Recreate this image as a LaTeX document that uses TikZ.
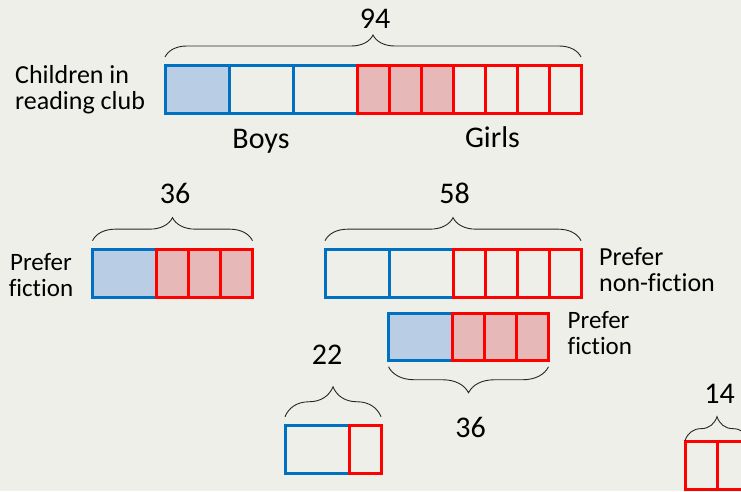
\documentclass[tikz,border=0pt]{standalone}
\usepackage{fontspec}
\setmainfont{Carlito}[Ligatures=CommonOff]
\usetikzlibrary{decorations.pathreplacing,calc}
\definecolor{bgc}{RGB}{239,239,233}
\definecolor{bstroke}{RGB}{0,112,192}
\definecolor{bfillc}{RGB}{185,205,229}
\definecolor{rstroke}{RGB}{255,0,0}
\definecolor{rfillc}{RGB}{230,185,184}
\definecolor{orangec}{RGB}{228,108,10}
\begin{document}
\begin{tikzpicture}[x=1pt,y=-1pt,
  cellbase/.style={line width=3pt, minimum height=47.5pt, inner sep=0pt, outer sep=0pt},
  bcell/.style={cellbase, draw=bstroke, minimum width=64pt},
  rcell/.style={cellbase, draw=rstroke, minimum width=32pt},
  bshade/.style={fill=bfillc},
  rshade/.style={fill=rfillc},
  lbl/.style={font=\fontsize{25}{26}\selectfont, inner sep=0pt, align=left},
  num/.style={font=\fontsize{30}{36}\selectfont, inner sep=0pt},
  brc/.style={decorate, decoration={brace, amplitude=#1}, line width=0.9pt, draw=black!85}
]
\useasboundingbox (0,0) rectangle (741,491);
\fill[bgc] (0,0) rectangle (741,491);

% partially visible title at the top edge
\node[font=\fontsize{30}{36}\selectfont, text=orangec, inner sep=0pt, anchor=base west] (title) at (172,-5.5) {by group};

% top bar
\node[bcell,bshade] (a1) at (197,89.25) {};
\node[bcell] (a2) at (261,89.25) {};
\node[bcell] (a3) at (325,89.25) {};
\node[rcell,rshade] (a4) at (373,89.25) {};
\node[rcell,rshade] (a5) at (405,89.25) {};
\node[rcell,rshade] (a6) at (437,89.25) {};
\node[rcell] (a7) at (469,89.25) {};
\node[rcell] (a8) at (501,89.25) {};
\node[rcell] (a9) at (533,89.25) {};
\node[rcell] (a10) at (565,89.25) {};
\draw[brc=22] ($(a1.north west)+(0,-8.5)$) -- ($(a10.north east)+(0,-8.5)$);
\node[num] (n94) at (375,19) {94};
\node[lbl, anchor=west, font=\fontsize{26}{26}\selectfont] (club) at (15,90) {Children in\\reading club};
\node[num, anchor=base] (boys) at (261,148) {Boys};
\node[num, anchor=base] (girls) at (492.5,147.5) {Girls};

% row 2 left
\node[bcell,bshade] (b1) at (124.5,273.4) {};
\node[rcell,rshade] (b2) at (172.5,273.4) {};
\node[rcell,rshade] (b3) at (204.5,273.4) {};
\node[rcell,rshade] (b4) at (236.5,273.4) {};
\draw[brc=23] ($(b1.north west)+(0,-9)$) -- ($(b4.north east)+(0,-9)$);
\node[num] (n36a) at (175,193.5) {36};
\node[lbl, align=center] (pf1) at (41,275) {Prefer\\fiction};

% row 2 right
\node[bcell] (c1) at (357,273.4) {};
\node[bcell] (c2) at (421,273.4) {};
\node[rcell] (c3) at (469,273.4) {};
\node[rcell] (c4) at (501,273.4) {};
\node[rcell] (c5) at (533,273.4) {};
\node[rcell] (c6) at (565,273.4) {};
\draw[brc=23] ($(c1.north west)+(0,-9)$) -- ($(c6.north east)+(0,-9)$);
\node[num] (n58) at (454.5,193.5) {58};
\node[lbl, anchor=west, font=\fontsize{26}{26}\selectfont] (pnf) at (599,270) {Prefer\\non-fiction};

% row 3
\node[bcell,bshade] (d1) at (420.5,337) {};
\node[rcell,rshade] (d2) at (468.5,337) {};
\node[rcell,rshade] (d3) at (500.5,337) {};
\node[rcell,rshade] (d4) at (532.5,337) {};
\draw[brc=26] ($(d4.south east)+(0,6)$) -- ($(d1.south west)+(0,6)$);
\node[num] (n36b) at (470.5,427) {36};
\node[lbl, anchor=west] (pf2) at (567.5,333) {Prefer\\fiction};

% row 4
\node[bcell] (e1) at (317,449.5) {};
\node[rcell] (e2) at (365,449.5) {};
\draw[brc=30] ($(e1.north west)+(0,-9)$) -- ($(e2.north east)+(0,-9)$);
\node[num] (n22) at (327,354.5) {22};

% row 5
\node[rcell] (f1) at (701,465.4) {};
\node[rcell] (f2) at (733,465.4) {};
\draw[brc=24] ($(f1.north west)+(0,-1)$) -- ($(f2.north east)+(0,-1)$);
\node[num] (n14) at (719.5,393.5) {14};
\end{tikzpicture}
\end{document}
